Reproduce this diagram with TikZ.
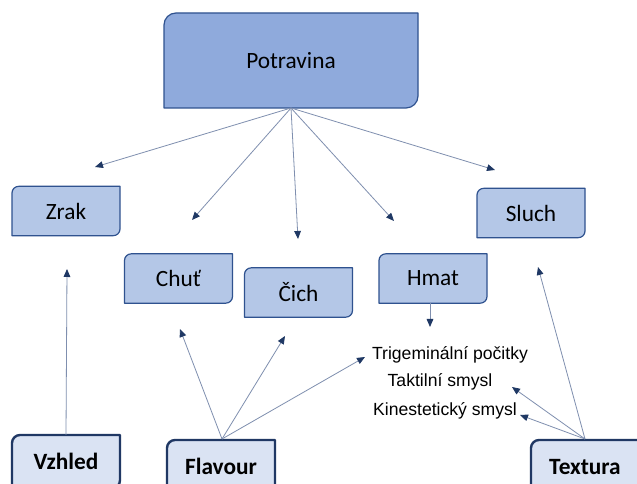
\documentclass[tikz,border=0pt]{standalone}
\usepackage{fontspec}
\setmainfont{Carlito}
\newfontfamily\arialfont{Liberation Sans}
\usetikzlibrary{arrows.meta,backgrounds}
\definecolor{topfill}{HTML}{8FAADC}
\definecolor{midfill}{HTML}{B4C7E7}
\definecolor{lowfill}{HTML}{DAE3F3}
\definecolor{boxedge}{HTML}{2F528F}
\definecolor{lowedge}{HTML}{203864}
\definecolor{arrline}{HTML}{7F8FAF}
\definecolor{arrhead}{HTML}{1F3864}
\tikzset{
  lbl/.style={inner sep=0pt,outer sep=0pt,font=\fontsize{17.5}{20}\selectfont},
  topbox/.style={lbl,minimum width=190.5pt,minimum height=71.25pt},
  midbox/.style={lbl,minimum width=81pt,minimum height=37pt},
  lowbox/.style={lbl,minimum width=81pt,minimum height=40pt,font=\fontsize{17.5}{20}\selectfont\bfseries},
  small/.style={inner sep=0pt,font=\arialfont\fontsize{13.2}{15}\selectfont},
  conn/.style={draw=arrline,line width=0.6pt,-{Triangle[length=6pt,width=5pt,fill=arrhead,color=arrhead]}},
}
\begin{document}
\begin{tikzpicture}[x=0.75pt,y=-0.75pt]
\useasboundingbox (0,0) rectangle (637,484);
\clip (0,0) rectangle (637,484);
% nodes
\node[topbox] (pot) at (291,60.5) {Potravina};
\node[midbox] (zrak) at (66,211) {Zrak};
\node[midbox] (chut) at (178.5,278.5) {Chuť};
\node[midbox] (cich) at (298.5,292.5) {Čich};
\node[midbox] (hmat) at (433,278.5) {Hmat};
\node[midbox] (sluch) at (531,213) {Sluch};
\node[lowbox,anchor=north] (vzhled) at (66,435) {\raisebox{-2pt}{Vzhled}};
\node[lowbox,anchor=north] (flavour) at (221,440) {\raisebox{-2pt}{Flavour}};
\node[lowbox,anchor=north] (textura) at (585,440) {\raisebox{-2pt}{Textura}};
\node[small] (trig) at (450,355) {Trigeminální počitky};
\node[small] (takt) at (440,382) {Taktilní smysl};
\node[small] (kin) at (445,411) {Kinestetický smysl};
% box outlines
\begin{scope}[on background layer]
\clip (0,0) rectangle (637,484);
\fill[white] (0,0) rectangle (637,484);
\foreach \n/\r/\f/\e/\w in {pot/9pt/topfill/boxedge/0.9pt, zrak/5pt/midfill/boxedge/0.9pt, chut/5pt/midfill/boxedge/0.9pt, cich/5pt/midfill/boxedge/0.9pt, hmat/5pt/midfill/boxedge/0.9pt, sluch/5pt/midfill/boxedge/0.9pt, vzhled/6pt/lowfill/lowedge/1.8pt, flavour/6pt/lowfill/lowedge/1.8pt, textura/6pt/lowfill/lowedge/1.8pt}
  \filldraw[fill=\f,draw=\e,line width=\w,line join=round]
    (\n.south west) -- ([yshift=-\r]\n.north west)
    arc[start angle=180,end angle=90,radius=\r]
    -- (\n.north east) -- ([yshift=\r]\n.south east)
    arc[start angle=0,end angle=-90,radius=\r] -- cycle;
\end{scope}
% free arrow ends
\coordinate (ezrak) at (95,167);
\coordinate (echut) at (192,220);
\coordinate (ecich) at (298,239);
\coordinate (ehmat) at (394,221);
\coordinate (esluch) at (495,170);
\coordinate (evz) at (67,269);
\coordinate (ef1) at (180,329);
\coordinate (ef2) at (285,336);
\coordinate (ef3) at (365,357);
\coordinate (eh) at (430,327);
\coordinate (et1) at (512,387);
\coordinate (et2) at (520,415);
\coordinate (et3) at (538,267);
\coordinate (hb) at (430,303);
\coordinate (fs) at (222,439);
\coordinate (ts) at (585,439);
% connectors
\foreach \e in {ezrak,echut,ecich,ehmat,esluch}
  \draw[conn] (pot.south) -- (\e);
\draw[conn] (vzhled.north) -- (evz);
\foreach \e in {ef1,ef2,ef3}
  \draw[conn] (fs) -- (\e);
\draw[conn] (hb) -- (eh);
\foreach \e in {et1,et2,et3}
  \draw[conn] (ts) -- (\e);
\end{tikzpicture}
\end{document}
